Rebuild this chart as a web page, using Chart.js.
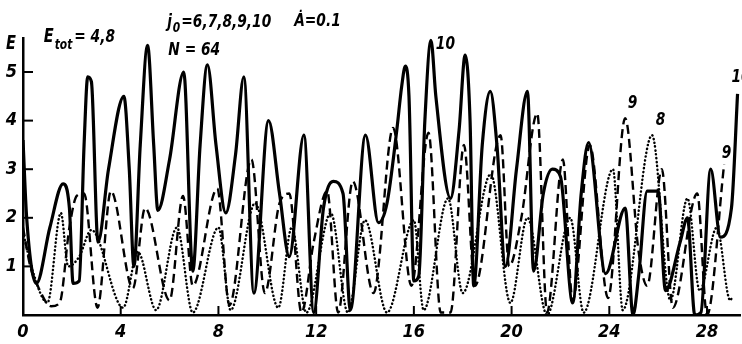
<!DOCTYPE html>
<html>
<head>
<meta charset="utf-8">
<script src="https://cdn.jsdelivr.net/npm/chart.js@4/dist/chart.umd.min.js"></script>
<style>
html,body{margin:0;padding:0;background:#fff;}
canvas{display:block;}
</style>
</head>
<body>
<canvas id="c" width="742" height="344"></canvas>
<script>
// ---- data ----
const xTicks = [0, 4, 8, 12, 16, 20, 24, 28];
const yTicks = [1, 2, 3, 4, 5];

// curve j0 = 10 (solid)
const x10 = [0, 0.15, 0.55, 1.1, 1.64, 1.9, 2.05, 2.3, 2.5, 2.65, 2.8, 3.07, 3.5, 4.13, 4.35, 4.54, 4.8, 5.1, 5.35, 5.52, 6.0, 6.58, 6.95, 7.25, 7.55, 7.9, 8.3, 8.7, 9.04, 9.45, 10.05, 10.5, 10.9, 11.5, 11.9, 12.3, 12.7, 13.1, 13.4, 14.02, 14.55, 14.9, 15.3, 15.5, 15.65, 15.8, 16.0, 16.2, 16.45, 16.7, 16.9, 17.5, 17.85, 18.1, 18.3, 18.45, 18.8, 19.13, 19.4, 19.75, 20.2, 20.65, 20.9, 21.3, 21.67, 22.0, 22.5, 22.85, 23.15, 23.85, 24.65, 24.97, 25.2, 25.55, 26.0, 26.3, 26.9, 27.2, 27.5, 27.75, 28.15, 28.55, 29.0, 29.25];
const e10 = [3.6, 2.0, 0.65, 1.8, 2.7, 2.2, 0.65, 0.7, 3.5, 4.9, 4.8, 1.5, 3.0, 4.5, 3.0, 1.0, 3.5, 5.55, 3.5, 2.15, 3.2, 5.0, 0.9, 3.5, 5.15, 3.5, 2.1, 3.3, 4.9, 0.45, 4.0, 2.5, 1.2, 3.7, 0.05, 2.2, 2.75, 2.5, 0.1, 3.7, 1.9, 2.3, 3.8, 4.7, 5.12, 4.5, 0.7, 0.8, 4.0, 5.65, 4.5, 2.4, 3.8, 5.35, 4.0, 0.6, 3.5, 4.6, 3.5, 1.0, 3.0, 4.6, 0.9, 2.5, 3.0, 2.85, 0.25, 2.5, 3.55, 0.85, 2.2, 0.0, 0.8, 2.55, 2.55, 0.5, 1.5, 2.0, 0.0, 0.05, 3.0, 1.6, 2.2, 4.55];

// curve j0 = 9 (dashed)
const x9 = [0, 0.3, 0.6, 1.15, 1.5, 1.9, 2.2, 2.5, 3.05, 3.6, 4.5, 5.0, 6.0, 6.55, 6.95, 7.95, 8.45, 9.35, 9.9, 10.5, 10.9, 11.4, 11.9, 12.45, 12.9, 13.5, 14.35, 15.15, 15.9, 16.6, 17.1, 17.5, 18.05, 18.5, 19.55, 19.9, 20.4, 21.05, 21.45, 22.1, 22.5, 23.2, 23.95, 24.65, 25.2, 25.55, 26.15, 26.6, 27.6, 28.0, 28.7];
const e9 = [1.8, 1.0, 0.6, 0.18, 0.25, 1.8, 2.45, 2.5, 0.15, 2.55, 0.55, 2.2, 0.3, 2.45, 0.6, 2.6, 0.2, 3.2, 0.45, 2.3, 2.5, 0.05, 1.5, 2.55, 0.05, 2.75, 0.45, 3.85, 0.6, 3.75, 0.05, 0.05, 3.5, 0.6, 3.7, 1.0, 2.0, 4.15, 0.05, 3.2, 0.3, 3.5, 0.35, 4.05, 1.3, 0.6, 3.0, 0.15, 2.5, 0.0, 3.1];

// curve j0 = 8 (dotted)
const x8 = [0, 0.4, 1.0, 1.55, 1.85, 2.3, 2.8, 4.1, 4.7, 5.45, 6.3, 6.95, 8.0, 8.5, 9.5, 10.45, 11.0, 11.6, 12.6, 13.3, 14.0, 14.9, 16.0, 16.4, 17.4, 18.0, 19.15, 19.95, 20.65, 21.45, 22.4, 22.95, 24.15, 24.55, 25.75, 26.5, 27.2, 27.7, 28.4, 28.95, 29.05];
const e8 = [1.7, 0.9, 0.25, 2.1, 1.0, 1.2, 1.75, 0.15, 1.3, 0.1, 1.8, 0.05, 1.8, 0.1, 2.3, 0.15, 1.8, 0.05, 2.1, 0.05, 1.95, 0.05, 1.95, 0.1, 2.4, 0.45, 2.9, 0.25, 2.0, 0.0, 2.0, 0.05, 3.0, 0.1, 3.7, 0.3, 2.4, 0.5, 1.8, 0.3, 0.4];

// curve labels (content and anchor in data units)
const notes = [
  {t: "10", x: 16.9, y: 5.56},
  {t: "9", x: 24.75, y: 4.36},
  {t: "8", x: 25.9, y: 4.0},
  {t: "9", x: 28.6, y: 3.33},
  {t: "10", x: 29.0, y: 4.9}
];

// ---- chart ----
const FONT = '"Liberation Sans Narrow", "DejaVu Sans Condensed", "Liberation Sans", sans-serif';
const pts = (xs, ys) => xs.map((x, i) => ({x: x, y: ys[i]}));

// draw condensed italic text
function txt(ctx, s, x, y, size) {
  ctx.save();
  ctx.font = 'italic bold ' + size + 'px ' + FONT;
  ctx.translate(x, y);
  ctx.scale(0.85, 1);
  ctx.fillText(s, 0, 0);
  const w = ctx.measureText(s).width * 0.85;
  ctx.restore();
  return w;
}

const decor = {
  id: 'decor',
  afterDraw(chart) {
    const ctx = chart.ctx, xs = chart.scales.x, ys = chart.scales.y;
    const ca = chart.chartArea;
    ctx.save();
    ctx.strokeStyle = '#000';
    ctx.lineWidth = 2;
    // inner tick marks
    xTicks.forEach(v => {
      if (v === 0) return;
      const p = xs.getPixelForValue(v);
      ctx.beginPath(); ctx.moveTo(p, ca.bottom); ctx.lineTo(p, ca.bottom - 9); ctx.stroke();
    });
    yTicks.forEach(v => {
      const p = ys.getPixelForValue(v);
      ctx.beginPath(); ctx.moveTo(ca.left, p); ctx.lineTo(ca.left + 10, p); ctx.stroke();
    });
    ctx.fillStyle = '#000';
    ctx.textBaseline = 'middle';
    ctx.textAlign = 'left';
    const tx = v => xs.getPixelForValue(v), ty = v => ys.getPixelForValue(v);
    // axis name
    txt(ctx, 'E', ca.left - 17, ty(5.58), 19);
    // header texts
    let x0 = tx(0.85), y0 = ty(5.72);
    let w = txt(ctx, 'E', x0, y0, 19);
    let w2 = txt(ctx, 'tot', x0 + w + 1, y0 + 8, 14);
    txt(ctx, '= 4,8', x0 + w + w2 + 3, y0, 18);

    x0 = tx(5.9); y0 = ty(6.02);
    w = txt(ctx, 'j', x0, y0, 18);
    w2 = txt(ctx, '0', x0 + w + 1, y0 + 6, 14);
    txt(ctx, '=6,7,8,9,10', x0 + w + w2 + 2, y0, 18);
    txt(ctx, '\u0226=0.1', tx(11.1), ty(6.05), 18);
    txt(ctx, 'N = 64', tx(5.95), ty(5.45), 18);

    notes.forEach(n => txt(ctx, n.t, tx(n.x), ty(n.y), 18));
    ctx.restore();
  }
};

new Chart(document.getElementById('c'), {
  type: 'scatter',
  data: {
    datasets: [
      {label: '10', data: pts(x10, e10), showLine: true, borderColor: '#000', borderWidth: 3.2,
       pointRadius: 0, cubicInterpolationMode: 'monotone', borderJoinStyle: 'round'},
      {label: '9', data: pts(x9, e9), showLine: true, borderColor: '#000', borderWidth: 2.4,
       borderDash: [9, 5], pointRadius: 0, cubicInterpolationMode: 'monotone'},
      {label: '8', data: pts(x8, e8), showLine: true, borderColor: '#000', borderWidth: 2.4,
       borderDash: [0.3, 3.6], borderCapStyle: 'round', pointRadius: 0, cubicInterpolationMode: 'monotone'}
    ]
  },
  options: {
    responsive: false,
    animation: false,
    devicePixelRatio: 1,
    layout: {padding: {top: 38, right: 2, left: 0, bottom: 0}},
    plugins: {legend: {display: false}, tooltip: {enabled: false}},
    scales: {
      x: {
        type: 'linear', min: 0, max: 29.35,
        afterBuildTicks: s => { s.ticks = xTicks.map(v => ({value: v})); },
        afterFit: s => { s.height = 29; },
        grid: {display: false, drawTicks: false},
        border: {display: true, color: '#000', width: 2.5},
        ticks: {color: '#000', padding: 7, maxRotation: 0,
                font: {family: FONT, size: 18, style: 'italic', weight: 'bold'}}
      },
      y: {
        type: 'linear', min: 0, max: 5.7,
        afterBuildTicks: s => { s.ticks = yTicks.map(v => ({value: v})); },
        afterFit: s => { s.width = 23; },
        grid: {display: false, drawTicks: false},
        border: {display: true, color: '#000', width: 2.5},
        ticks: {color: '#000', padding: 6,
                font: {family: FONT, size: 18, style: 'italic', weight: 'bold'}}
      }
    }
  },
  plugins: [decor]
});
</script>
</body>
</html>
